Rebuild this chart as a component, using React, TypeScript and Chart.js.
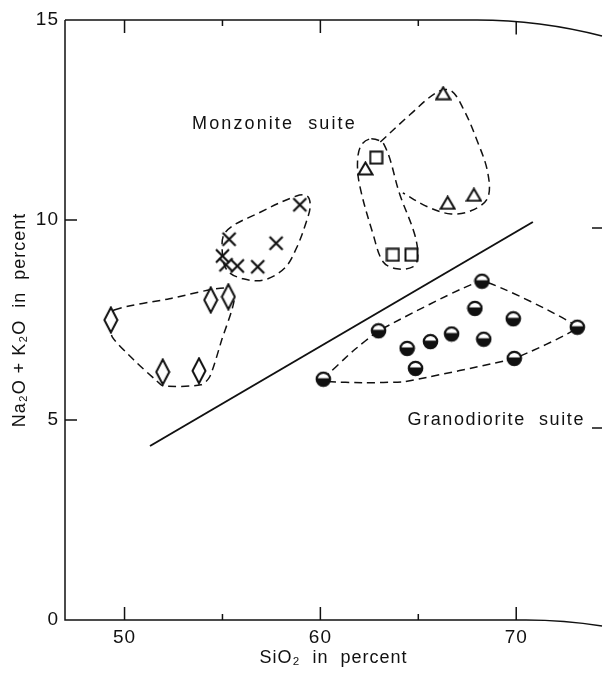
import React, { useEffect, useRef } from "react";
import { Chart, registerables } from "chart.js";

Chart.register(...registerables);

type P = [number, number];

// ---- axis set-up ----
const xMin = 46.96;
const xMax = 74.38;
const yMin = 0;
const yMax = 15;
const xMajorTicks = [50, 60, 70];
const xMinorTicks = [55, 65];
const yTickValues = [0, 5, 10, 15];
const yInnerTicks = [5, 10];

// ---- data (SiO2 %, Na2O+K2O %) ----
const diamonds: P[] = [[49.3, 7.5], [51.95, 6.2], [53.8, 6.23], [54.4, 8.0], [55.3, 8.08]];
const crosses: P[] = [[55.0, 9.1], [55.18, 8.88], [55.34, 9.52], [55.76, 8.85], [56.8, 8.83], [57.74, 9.42], [58.95, 10.38]];
const triangles: P[] = [[62.3, 11.29], [66.27, 13.17], [66.5, 10.43], [67.84, 10.63]];
const squares: P[] = [[62.85, 11.56], [63.7, 9.13], [64.65, 9.13]];
const halfCircles: P[] = [
  [60.15, 6.02], [62.97, 7.23], [64.43, 6.79], [64.86, 6.29], [65.62, 6.96], [66.7, 7.15],
  [67.89, 7.79], [68.25, 8.47], [68.34, 7.02], [69.85, 7.53], [69.9, 6.54], [73.12, 7.32],
];

// ---- dividing line ----
const dividerLine: P[] = [[51.3, 4.35], [70.85, 9.95]];

// ---- dashed field outlines ----
const diamondField: P[] = [
  [49.47, 7.75], [52.29, 8.03], [55.11, 8.3], [55.61, 8.05], [54.96, 7.0], [54.35, 6.08],
  [53.9, 5.88], [51.99, 5.85], [51.64, 5.98], [50.48, 6.5], [49.37, 7.08], [49.27, 7.45],
];
const crossField: P[] = [
  [55.16, 9.7], [56.87, 10.18], [58.78, 10.6], [59.33, 10.6], [59.48, 10.35], [59.28, 9.95],
  [58.78, 9.3], [58.18, 8.8], [57.12, 8.5], [56.06, 8.53], [55.26, 8.73], [55.0, 9.13],
];
const squareField: P[] = [
  [62.6, 12.03], [63.26, 11.88], [64.06, 10.63], [64.82, 9.63], [64.97, 9.05], [64.72, 8.83],
  [63.91, 8.78], [63.21, 8.95], [62.7, 9.63], [62.0, 10.88], [61.9, 11.5], [62.1, 11.88],
];
const triangleField: P[] = [
  [63.06, 11.95], [64.57, 12.63], [65.97, 13.2], [66.68, 13.23], [67.33, 12.75], [67.99, 12.0],
  [68.54, 11.2], [68.54, 10.55], [67.69, 10.23], [66.68, 10.15], [65.47, 10.33], [64.21, 10.68],
];
const circleField: P[] = [
  [60.15, 6.02], [61.63, 6.71], [62.97, 7.23], [68.25, 8.47], [73.12, 7.32], [69.9, 6.54],
  [64.31, 5.96], [62.14, 5.93], [60.45, 5.96],
];

// ---- annotations ----
const suiteLabels: { text: string; x: number; y: number; spacing: number }[] = [
  { text: "Monzonite  suite", x: 53.45, y: 12.4, spacing: 2.1 },
  { text: "Granodiorite  suite", x: 64.45, y: 5.0, spacing: 1.6 },
];

const FONT = '"Liberation Sans", Arial, Helvetica, sans-serif';
const INK = "#111";

const toXY = (a: P[]) => a.map(([x, y]) => ({ x, y }));
const closedLoop = (a: P[]) => {
  const n = a.length;
  return toXY([a[n - 1], ...a, a[0], a[1]]);
};

function makeCanvas(w: number, h: number) {
  const c = document.createElement("canvas");
  c.width = w;
  c.height = h;
  return c;
}

function makeMarkers() {
  const diamond = makeCanvas(16, 28);
  {
    const g = diamond.getContext("2d")!;
    g.beginPath();
    g.moveTo(8, 1.5); g.lineTo(14.5, 14); g.lineTo(8, 26.5); g.lineTo(1.5, 14); g.closePath();
    g.fillStyle = "#fff"; g.fill();
    g.lineWidth = 2; g.strokeStyle = INK; g.stroke();
  }
  const cross = makeCanvas(17, 17);
  {
    const g = cross.getContext("2d")!;
    g.beginPath();
    g.moveTo(2, 2); g.lineTo(15, 15); g.moveTo(15, 2); g.lineTo(2, 15);
    g.lineWidth = 2.2; g.strokeStyle = INK; g.stroke();
  }
  const tri = makeCanvas(17, 15);
  {
    const g = tri.getContext("2d")!;
    g.beginPath();
    g.moveTo(8.5, 1.5); g.lineTo(15.5, 13.5); g.lineTo(1.5, 13.5); g.closePath();
    g.fillStyle = "#fff"; g.fill();
    g.lineWidth = 2; g.strokeStyle = INK; g.stroke();
  }
  const sq = makeCanvas(15, 15);
  {
    const g = sq.getContext("2d")!;
    g.fillStyle = "#fff"; g.fillRect(1.5, 1.5, 12, 12);
    g.lineWidth = 2; g.strokeStyle = INK; g.strokeRect(1.5, 1.5, 12, 12);
  }
  const half = makeCanvas(17, 17);
  {
    const g = half.getContext("2d")!;
    g.beginPath(); g.arc(8.5, 8.5, 7, 0, Math.PI * 2);
    g.fillStyle = INK; g.fill();
    g.save();
    g.beginPath(); g.arc(8.5, 8.5, 5.6, 0, Math.PI * 2); g.clip();
    g.fillStyle = "#fff"; g.fillRect(0, 0, 17, 7.5);
    g.restore();
    g.beginPath(); g.arc(8.5, 8.5, 7, 0, Math.PI * 2);
    g.lineWidth = 1.6; g.strokeStyle = INK; g.stroke();
  }
  return { diamond, cross, tri, sq, half };
}

const framePlugin = {
  id: "frame",
  beforeDraw(chart: any) {
    chart.ctx.letterSpacing = "1px";
  },
  afterDraw(chart: any) {
    const { ctx, chartArea: a, scales } = chart;
    const x = scales.x;
    const y = scales.y;
    ctx.save();
    ctx.strokeStyle = INK;
    ctx.lineWidth = 1.5;
    ctx.lineCap = "butt";
    // frame: left, bottom, top (with the page curl towards the right edge)
    const topBend = x.getPixelForValue(68);
    const botBend = x.getPixelForValue(70.5);
    ctx.beginPath();
    ctx.moveTo(a.left, a.top);
    ctx.lineTo(a.left, a.bottom);
    ctx.lineTo(botBend, a.bottom);
    ctx.quadraticCurveTo((botBend + a.right) / 2, a.bottom, a.right, a.bottom + 6);
    ctx.moveTo(a.left, a.top);
    ctx.lineTo(topBend, a.top);
    ctx.quadraticCurveTo((topBend + a.right) / 2, a.top, a.right, a.top + 16);
    ctx.stroke();
    // inward ticks on x (bottom & top)
    ctx.beginPath();
    const tick = (v: number, len: number) => {
      const px = x.getPixelForValue(v);
      const tOff = px > topBend ? 16 * Math.pow((px - topBend) / (a.right - topBend), 2) : 0;
      ctx.moveTo(px, a.bottom);
      ctx.lineTo(px, a.bottom - len);
      ctx.moveTo(px, a.top + tOff);
      ctx.lineTo(px, a.top + tOff + len);
    };
    xMajorTicks.forEach((v) => tick(v, 13));
    xMinorTicks.forEach((v) => tick(v, 6));
    // inward ticks on y (left), and right-edge stubs
    yInnerTicks.forEach((v) => {
      const py = y.getPixelForValue(v);
      ctx.moveTo(a.left, py);
      ctx.lineTo(a.left + 12, py);
      ctx.moveTo(a.right, py + 8);
      ctx.lineTo(a.right - 10, py + 8);
    });
    ctx.stroke();
    // suite labels
    ctx.fillStyle = INK;
    ctx.font = `18px ${FONT}`;
    ctx.textBaseline = "middle";
    ctx.textAlign = "left";
    suiteLabels.forEach((l) => {
      ctx.letterSpacing = `${l.spacing}px`;
      ctx.fillText(l.text, x.getPixelForValue(l.x), y.getPixelForValue(l.y));
    });
    ctx.restore();
  },
};

export default function App() {
  const ref = useRef<HTMLCanvasElement>(null);
  useEffect(() => {
    const canvas = ref.current!;
    const m = makeMarkers();
    const markerSet = (data: P[], style: HTMLCanvasElement) => ({
      data: toXY(data),
      pointStyle: style,
      pointRadius: 7,
      showLine: false,
    });
    const loopSet = (pts: P[], tension: number) => {
      const n = pts.length;
      return {
        data: closedLoop(pts),
        showLine: true,
        pointRadius: 0,
        borderColor: INK,
        borderWidth: 1.5,
        borderDash: [8, 5],
        tension,
        segment: {
          borderColor: (c: any) =>
            c.p0DataIndex === 0 || c.p0DataIndex === n + 1 ? "rgba(0,0,0,0)" : INK,
        },
      };
    };
    const chart = new Chart(canvas, {
      type: "scatter",
      data: {
        datasets: [
          markerSet(diamonds, m.diamond),
          markerSet(crosses, m.cross),
          markerSet(triangles, m.tri),
          markerSet(squares, m.sq),
          markerSet(halfCircles, m.half),
          {
            data: toXY(dividerLine),
            showLine: true,
            pointRadius: 0,
            borderColor: INK,
            borderWidth: 2,
          },
          loopSet(diamondField, 0.25),
          loopSet(crossField, 0.35),
          loopSet(squareField, 0.35),
          loopSet(circleField, 0.1),
          {
            data: toXY(triangleField),
            showLine: true,
            pointRadius: 0,
            borderColor: INK,
            borderWidth: 1.5,
            borderDash: [8, 5],
            tension: 0.35,
          },
        ] as any,
      },
      options: {
        responsive: false,
        maintainAspectRatio: false,
        animation: false,
        events: [],
        layout: { padding: { top: 20, right: 0, left: 0, bottom: 0 } },
        plugins: { legend: { display: false }, tooltip: { enabled: false } },
        scales: {
          x: {
            type: "linear",
            min: xMin,
            max: xMax,
            grid: { display: false, drawTicks: false },
            border: { display: false },
            afterBuildTicks: (s: any) => {
              s.ticks = xMajorTicks.map((v) => ({ value: v }));
            },
            afterFit: (s: any) => {
              s.height = 53;
            },
            ticks: {
              color: INK,
              padding: 6,
              font: { family: FONT, size: 19 },
              callback: (v: any) => String(v),
            },
            title: {
              display: true,
              text: "SiO₂  in  percent",
              color: INK,
              font: { family: FONT, size: 18 },
              padding: { top: 0, bottom: 4 },
            },
          },
          y: {
            type: "linear",
            min: yMin,
            max: yMax,
            grid: { display: false, drawTicks: false },
            border: { display: false },
            afterBuildTicks: (s: any) => {
              s.ticks = yTickValues.map((v) => ({ value: v }));
            },
            afterFit: (s: any) => {
              s.width = 65;
            },
            ticks: {
              color: INK,
              padding: 6,
              font: { family: FONT, size: 19 },
              callback: (v: any) => String(v),
            },
            title: {
              display: true,
              text: "Na₂O + K₂O  in  percent",
              color: INK,
              font: { family: FONT, size: 18 },
              padding: { top: 9, bottom: 0 },
            },
          },
        },
      } as any,
      plugins: [framePlugin],
    });
    return () => chart.destroy();
  }, []);
  return (
    <div style={{ position: "absolute", left: 0, top: 0, width: 610, height: 673, background: "#fff" }}>
      <canvas ref={ref} width={610} height={673} style={{ display: "block", width: 610, height: 673 }} />
    </div>
  );
}
